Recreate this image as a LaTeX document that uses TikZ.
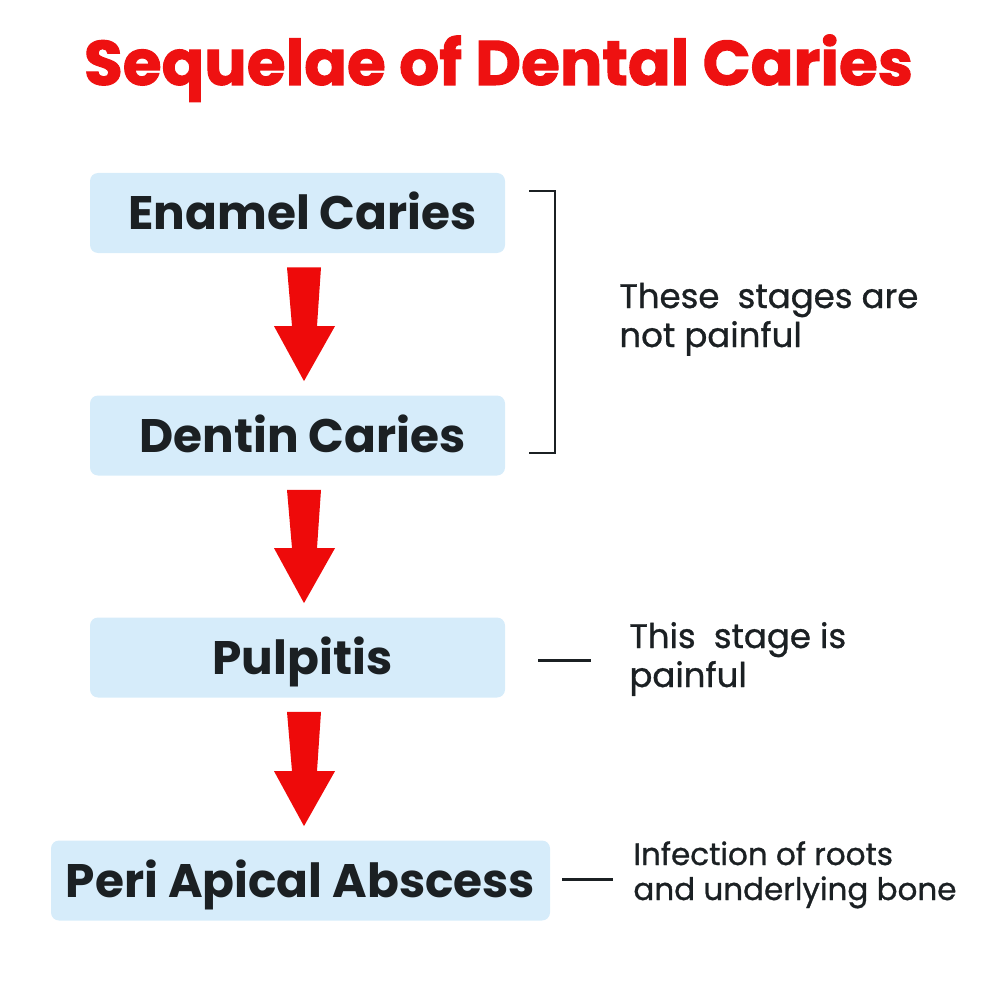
\documentclass[tikz,border=0pt]{standalone}
\usepackage{fontspec}
\setmainfont{Poppins}
\newfontfamily\notefont{Poppins}[FakeBold=0.9]
\newfontfamily\headfont{Poppins}[FakeBold=1.6]
\usetikzlibrary{calc}
\definecolor{boxblue}{HTML}{D6ECFA}
\definecolor{arrowred}{HTML}{EE0A0A}
\definecolor{titlered}{HTML}{EE1111}
\definecolor{ink}{HTML}{1B2023}
\newcommand\redarrow[2]{%
  \coordinate (top) at ($(#1.south)+(6.5,14)$);
  \coordinate (tip) at ($(top |- #2.north)+(0,-14)$);
  \fill[blockarrow] ($(top)+(-17,0)$) -- ($(top)+(17,0)$) -- ($(tip)+(13,-55)$) -- ($(tip)+(31,-55)$) -- (tip) -- ($(tip)+(-30,-55)$) -- ($(tip)+(-12,-55)$) -- cycle;}
\begin{document}
\begin{tikzpicture}[x=0.5pt,y=-0.5pt,
  stage/.style={fill=boxblue, rounded corners=4pt, minimum width=207.5pt, minimum height=40pt, inner sep=0pt,
    font=\fontsize{23.5}{28}\selectfont\bfseries, text=ink, text height=16.5pt, text depth=0pt},
  note/.style={font=\notefont\fontsize{17}{19.5}\selectfont, text=ink, align=left, inner sep=0pt, anchor=base west},
  dashline/.style={draw=ink, line width=1.5pt},
  bracketline/.style={draw=ink, line width=0.8pt},
  blockarrow/.style={fill=arrowred}]
\useasboundingbox (0,0) rectangle (1000,1000);
\node[font=\headfont\fontsize{31.5}{36}\selectfont\bfseries, text=titlered, anchor=base, inner sep=0pt] (title) at (498.5,85) {Sequelae of Dental Caries};
\node[stage] (b1) at (297.5,213) {\hspace*{5pt}Enamel Caries};
\node[stage] (b2) at (297.5,435.5) {\hspace*{5pt}Dentin Caries};
\node[stage] (b3) at (297.5,657.5) {\hspace*{5pt}Pulpitis};
\node[stage, minimum width=249.5pt] (b4) at (300.5,880.5) {Peri Apical Abscess};
\redarrow{b1}{b2}
\redarrow{b2}{b3}
\redarrow{b3}{b4}
\coordinate (brT) at (529,191);
\coordinate (brR) at (555,453);
\coordinate (brB) at (529,453);
\draw[bracketline] (brT) -| (brR) -- (brB);
\node[note] (n1) at (619,347) {These\ \ stages are\\not painful};
\node[note] (n2) at (629,687) {This\ \ stage is\\painful};
\node[note, font=\notefont\fontsize{15.5}{17.5}\selectfont] (n3) at (633,900) {Infection of roots\\and underlying bone};
\coordinate (d3a) at ($(b3.east)+(33,2.5)$);
\coordinate (d3b) at ($(b3.east)+(86,2.5)$);
\draw[dashline] (d3a) -- (d3b);
\coordinate (d4a) at ($(b4.east)+(12,-1.5)$);
\coordinate (d4b) at ($(b4.east)+(63,-1.5)$);
\draw[dashline] (d4a) -- (d4b);
\end{tikzpicture}
\end{document}
